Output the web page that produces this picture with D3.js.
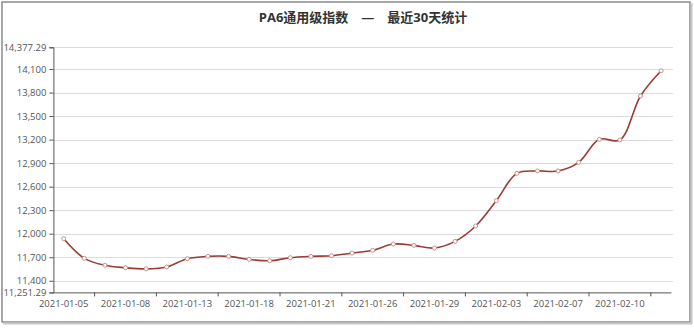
<!DOCTYPE html>
<html><head><meta charset="utf-8">
<script src="https://cdn.jsdelivr.net/npm/d3@7/dist/d3.min.js"></script>
<style>
html,body{margin:0;padding:0;background:#fff;}
svg{display:block;font-family:"Open Sans","Noto Sans CJK SC",sans-serif;}
</style></head><body>
<svg id="c" width="694" height="328"></svg>
<script>
const dates = ["2021-01-05","2021-01-06","2021-01-07","2021-01-08","2021-01-11","2021-01-12","2021-01-13","2021-01-14","2021-01-15","2021-01-18","2021-01-19","2021-01-20","2021-01-21","2021-01-22","2021-01-25","2021-01-26","2021-01-27","2021-01-28","2021-01-29","2021-02-01","2021-02-02","2021-02-03","2021-02-04","2021-02-05","2021-02-07","2021-02-08","2021-02-09","2021-02-10","2021-02-11","2021-02-12"];
const values = [11936,11686,11597,11566,11551.29,11575,11681,11711,11711,11673,11655,11694,11711,11719,11753,11788,11868,11851,11817,11902,12098,12421,12770,12800,12800,12910,13204,13195,13756,14077.29];
const labelIdx = [0,3,6,9,12,15,18,21,24,27];
const yTicks = [11400,11700,12000,12300,12600,12900,13200,13500,13800,14100];
const yMin = 11251.29, yMax = 14377.29;
const title = "PA6通用级指数　—　最近30天统计";

const svg = d3.select("#c");
// frame
svg.append("rect").attr("x",2).attr("y",2).attr("width",688).attr("height",320)
  .attr("fill","#fff").attr("stroke","#8a8a8a").attr("stroke-width",1.5);
svg.append("line").attr("x1",3).attr("x2",692).attr("y1",323.5).attr("y2",323.5).attr("stroke","#c8c8c8").attr("stroke-width",2);
svg.append("line").attr("x1",691.5).attr("x2",691.5).attr("y1",3).attr("y2",324).attr("stroke","#c8c8c8").attr("stroke-width",2);

const L = 53.4, R = 671.4, T = 47.3, B = 292.4;
const x = d3.scaleBand().domain(d3.range(dates.length)).range([L,R]);
const y = d3.scaleLinear().domain([yMin,yMax]).range([B,T]);
const cx = i => x(i) + x.bandwidth()/2;

svg.append("text").attr("x",363).attr("y",22).attr("text-anchor","middle")
  .attr("font-size",13).attr("font-weight","bold").attr("fill","#333").text(title);

// grid
const allY = [yMin].concat(yTicks).concat([yMax]);
svg.append("g").selectAll("line").data(yTicks.concat([yMax])).join("line")
  .attr("x1",L).attr("x2",R+1.5).attr("y1",d=>Math.round(y(d))+0.5).attr("y2",d=>Math.round(y(d))+0.5)
  .attr("stroke","#dcdcdc").attr("stroke-width",1);

// y axis
const yg = svg.append("g").attr("transform",`translate(${L},0)`)
  .call(d3.axisLeft(y).tickValues(allY).tickSize(4).tickPadding(3)
    .tickFormat(d => (d===yMin||d===yMax) ? d3.format(",.2f")(d) : d3.format(",")(d)));
yg.select(".domain").attr("stroke","#555");
yg.selectAll(".tick line").attr("stroke","#555");
yg.selectAll("text").attr("font-size",9.5).attr("fill","#555").attr("font-family","'Open Sans',sans-serif");

// x axis
const xg = svg.append("g").attr("transform",`translate(0,${B})`);
xg.append("line").attr("x1",L).attr("x2",R).attr("y1",0.5).attr("y2",0.5).attr("stroke","#555");
xg.selectAll("line.tk").data(labelIdx).join("line").attr("class","tk")
  .attr("x1",i=>x(i+2)).attr("x2",i=>x(i+2)).attr("y1",0).attr("y2",4).attr("stroke","#555");
xg.selectAll("text").data(labelIdx).join("text")
  .attr("x",i=>cx(i)).attr("y",15).attr("text-anchor","middle")
  .attr("font-size",9.5).attr("fill","#555").text(i=>dates[i]);

// line
const line = d3.line().x((d,i)=>cx(i)).y(d=>y(d)).curve(d3.curveCatmullRom.alpha(0.5));
svg.append("path").datum(values).attr("d",line).attr("fill","none")
  .attr("stroke","#9c3a36").attr("stroke-width",1.6);
svg.append("g").selectAll("circle").data(values).join("circle")
  .attr("cx",(d,i)=>cx(i)).attr("cy",d=>y(d)).attr("r",2)
  .attr("fill","#fff").attr("stroke","#c9908c").attr("stroke-width",1);
</script>
</body></html>
